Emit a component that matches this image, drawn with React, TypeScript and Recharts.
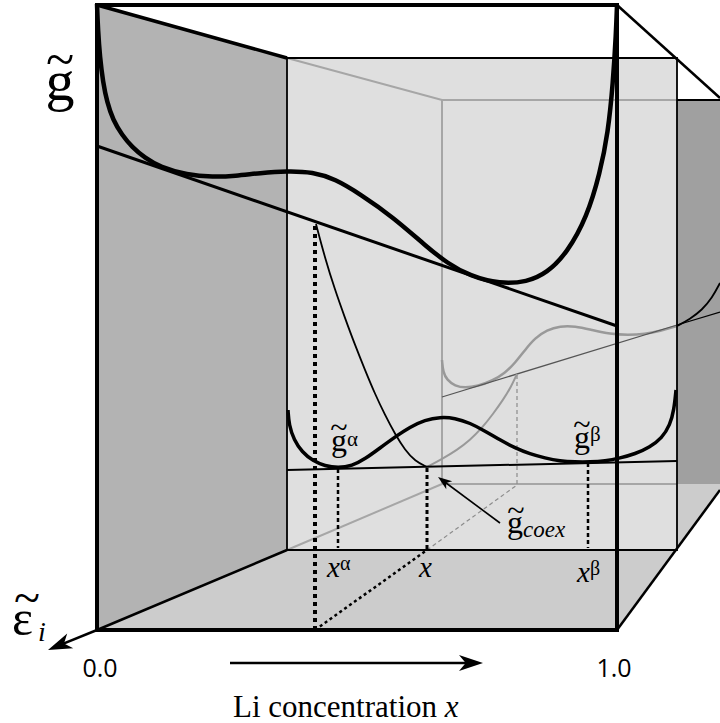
import React from "react";
import { Area, ComposedChart, Line, ReferenceDot, XAxis, YAxis } from "recharts";

type Pt = [number, number];

const W = 720;
const H = 723;

// ---- box outline (drawing units, y grows downward) ----
const frontFrame: Pt[] = [[97, 630], [97, 5], [617, 5], [617, 630], [97, 630]];
const topLeftEdge: Pt[] = [[97, 5], [287, 58]];
const topRightEdge: Pt[] = [[617, 5], [720, 98]];
const floorRightEdge: Pt[] = [[617, 630], [720, 490]];
const floorLeftEdge: Pt[] = [[97, 630], [287, 550]];
const middleFrame: Pt[] = [[287, 550], [287, 58], [677, 58], [677, 550], [287, 550]];
const backWallTop: Pt[] = [[677, 100], [720, 100]];
const backFrameTop: Pt[] = [[287, 58], [442, 100], [677, 100]];
const backFrameSide: Pt[] = [[442, 100], [442, 484], [677, 484]];
const backFrameFloor: Pt[] = [[287, 550], [442, 484]];

// ---- shaded faces, [top, bottom] at each x ----
const sidePanel = [{ x: 97, r: [5, 630] }, { x: 287, r: [58, 550] }];
const middlePanel = [{ x: 287, r: [58, 550] }, { x: 677, r: [58, 550] }];
const floorPanel = [
  { x: 97, r: [630, 630] },
  { x: 287, r: [550, 630] },
  { x: 617, r: [550, 630] },
  { x: 677, r: [550, 550] },
];
const backFloorPanel = [{ x: 677, r: [484, 550] }, { x: 720, r: [484, 490] }];
const backWallPanel = [{ x: 677, r: [100, 484] }, { x: 720, r: [100, 484] }];

// ---- free energy curves ----
const frontCurve: Pt[] = [
  [97, 4], [98, 30], [100, 58], [103, 82], [107, 102], [113, 120], [122, 135], [132, 147],
  [145, 158], [160, 167], [187, 175], [213, 177], [235, 176], [260, 173], [287, 171],
  [313, 172], [335, 179], [360, 194], [393, 217], [427, 247], [447, 263], [470, 276],
  [500, 284], [527, 282], [547, 273], [567, 253], [587, 217], [600, 173], [608, 133],
  [613, 83], [616, 33], [617, 5],
];
const frontTangent: Pt[] = [[97, 146], [617, 326]];

const middleCurve: Pt[] = [
  [288, 410], [289, 425], [294, 440], [302, 452], [313, 461], [325, 466], [338, 468],
  [352, 466], [365, 459], [380, 448], [395, 437], [410, 427], [425, 420], [440, 417],
  [455, 418], [470, 423], [485, 431], [500, 440], [515, 448], [530, 454], [545, 458],
  [560, 461], [575, 462], [590, 462], [605, 461], [620, 458], [635, 454], [650, 447],
  [662, 438], [670, 425], [674, 410], [676, 390],
];
const middleTangent: Pt[] = [[287, 470], [677, 461]];

const backCurve: Pt[] = [
  [442, 360], [443, 372], [447, 380], [455, 386], [465, 388], [478, 386], [492, 381],
  [505, 373], [515, 363], [525, 350], [535, 338], [547, 330], [560, 326], [575, 326],
  [592, 330], [610, 334], [628, 335], [645, 334], [660, 331], [677, 326],
];
const backCurveWall: Pt[] = [[677, 326], [690, 319], [702, 310], [712, 298], [720, 283]];
const backTangent: Pt[] = [[442, 397], [677, 325]];
const backTangentWall: Pt[] = [[677, 325], [720, 312]];

// locus of the common-tangent point across the slices
const coexFront: Pt[] = [
  [316, 224], [325, 258], [335, 290], [345, 318], [355, 345], [365, 370], [375, 394],
  [385, 415], [395, 434], [405, 450], [415, 461], [427, 467],
];
const coexBack: Pt[] = [
  [427, 467], [442, 459], [457, 450], [470, 440], [482, 428], [493, 414], [503, 400],
  [511, 387], [517, 374],
];

// ---- projections onto the floor ----
const dropFront: Pt[] = [[315, 226], [315, 630]];
const dropFloor: Pt[] = [[315, 630], [427, 550]];
const dropCoex: Pt[] = [[427, 468], [427, 550]];
const dropAlpha: Pt[] = [[338, 469], [338, 548]];
const dropBeta: Pt[] = [[588, 463], [588, 548]];
const dropBackFloor: Pt[] = [[427, 550], [517, 485]];
const dropBack: Pt[] = [[517, 375], [517, 485]];

// ---- arrows: [tail, tip] ----
const epsArrow: Pt[] = [[97, 630], [48, 650]];
const concArrow: Pt[] = [[230, 663], [483, 663]];
const coexArrow: Pt[] = [[500, 523], [438, 477]];

// ---- text ----
type Piece = { t: string; size: number; italic?: boolean; dx?: number; dy?: number };
type Note = {
  x: number;
  y: number;
  parts: Piece[];
  font?: string;
  anchor?: "start" | "middle";
};

const SERIF = "Liberation Serif";
const SANS = "Open Sans";

const notes: Note[] = [
  { x: 60, y: 100, anchor: "middle", parts: [{ t: "g", size: 58 }] },
  { x: 60, y: 77, anchor: "middle", parts: [{ t: "~", size: 52 }] },
  { x: 12, y: 635, parts: [{ t: "ε", size: 50 }] },
  { x: 27, y: 614, anchor: "middle", parts: [{ t: "~", size: 48 }] },
  { x: 38, y: 641, parts: [{ t: "i", size: 28, italic: true }] },
  { x: 100, y: 677, anchor: "middle", font: SANS, parts: [{ t: "0.0", size: 25 }] },
  { x: 614, y: 677, anchor: "middle", font: SANS, parts: [{ t: "1.0", size: 25 }] },
  { x: 233, y: 717, parts: [{ t: "Li concentration ", size: 31 }, { t: "x", size: 31, italic: true }] },
  { x: 331, y: 451, parts: [{ t: "g", size: 32 }, { t: "α", size: 21, dy: -5 }] },
  { x: 339, y: 438, anchor: "middle", parts: [{ t: "~", size: 32 }] },
  { x: 574, y: 448, parts: [{ t: "g", size: 32 }, { t: "β", size: 21, dy: -7 }] },
  { x: 582, y: 435, anchor: "middle", parts: [{ t: "~", size: 32 }] },
  { x: 327, y: 577, parts: [{ t: "x", size: 29, italic: true }, { t: "α", size: 20, dy: -7 }] },
  { x: 419, y: 577, parts: [{ t: "x", size: 29, italic: true }] },
  { x: 577, y: 582, parts: [{ t: "x", size: 29, italic: true }, { t: "β", size: 20, dy: -7 }] },
  { x: 507, y: 533, parts: [{ t: "g", size: 32 }, { t: "coex", size: 23, italic: true, dy: 4 }] },
  { x: 516, y: 521, anchor: "middle", parts: [{ t: "~", size: 32 }] },
];

const rows = (pts: Pt[]) => pts.map(([x, y]) => ({ x, y }));

let lineId = 0;
const stroke = (
  pts: Pt[],
  color: string,
  width: number,
  opts: { curve?: boolean; dash?: string; cap?: "butt" | "round" | "square" } = {}
) => (
  <Line
    key={`l${lineId++}`}
    data={rows(pts)}
    dataKey="y"
    type={opts.curve ? "basis" : "linear"}
    stroke={color}
    strokeWidth={width}
    strokeDasharray={opts.dash}
    strokeLinecap={opts.cap ?? "butt"}
    strokeLinejoin="miter"
    dot={false}
    activeDot={false}
    legendType="none"
    isAnimationActive={false}
  />
);

const face = (data: { x: number; r: number[] }[], color: string, key: string) => (
  <Area
    key={key}
    data={data}
    dataKey="r"
    type="linear"
    fill={color}
    fillOpacity={1}
    stroke="none"
    activeDot={false}
    isAnimationActive={false}
  />
);

// shaft stops short of the tip so the head stays sharp
const shaft = (a: Pt[], back: number): Pt[] => {
  const [[x0, y0], [x1, y1]] = a;
  const len = Math.hypot(x1 - x0, y1 - y0);
  const k = (len - back) / len;
  return [[x0, y0], [x0 + (x1 - x0) * k, y0 + (y1 - y0) * k]];
};

const arrowHead = (a: Pt[], length: number, half: number, key: string) => {
  const [[x0, y0], [x1, y1]] = a;
  const ang = Math.atan2(y1 - y0, x1 - x0);
  return (
    <ReferenceDot
      key={key}
      x={x1}
      y={y1}
      r={0}
      ifOverflow="visible"
      shape={(p: any) => {
        const pts = [
          [0, 0],
          [-length, -half],
          [-length * 0.72, 0],
          [-length, half],
        ]
          .map(([u, v]) => {
            const px = p.cx + u * Math.cos(ang) - v * Math.sin(ang);
            const py = p.cy + u * Math.sin(ang) + v * Math.cos(ang);
            return `${px},${py}`;
          })
          .join(" ");
        return <polygon points={pts} fill="#000" />;
      }}
    />
  );
};

const noteDot = (n: Note, i: number) => (
  <ReferenceDot
    key={`n${i}`}
    x={n.x}
    y={n.y}
    r={0}
    ifOverflow="visible"
    shape={(p: any) => (
      <text
        x={p.cx}
        y={p.cy}
        textAnchor={n.anchor ?? "start"}
        fontFamily={n.font ?? SERIF}
        fill="#000"
      >
        {n.parts.map((s, j) => (
          <tspan
            key={j}
            fontSize={s.size}
            fontStyle={s.italic ? "italic" : "normal"}
            dx={s.dx}
            dy={j === 0 ? s.dy : (s.dy ?? 0) - (n.parts[j - 1].dy ?? 0)}
          >
            {s.t}
          </tspan>
        ))}
      </text>
    )}
  />
);

export default function App() {
  lineId = 0;
  return (
    <div style={{ width: W, height: H }}>
      <style>{"body{margin:0}"}</style>
      <ComposedChart width={W} height={H} margin={{ top: 0, right: 0, bottom: 0, left: 0 }}>
        <XAxis type="number" dataKey="x" domain={[0, W]} hide allowDataOverflow />
        <YAxis type="number" domain={[0, H]} reversed hide allowDataOverflow />

        {face(sidePanel, "#b3b3b3", "side")}
        {face(middlePanel, "#dfdfdf", "middle")}
        {face(floorPanel, "#cccccc", "floor")}
        {face(backFloorPanel, "#cccccc", "backFloor")}
        {face(backWallPanel, "#a0a0a0", "backWall")}

        {stroke(backFrameTop, "#a6a6a6", 2)}
        {stroke(backFrameSide, "#a6a6a6", 2)}
        {stroke(backFrameFloor, "#a6a6a6", 2)}
        {stroke(dropBackFloor, "#8c8c8c", 1.2, { dash: "4 3" })}
        {stroke(dropBack, "#8c8c8c", 1.2, { dash: "4 3" })}
        {stroke(backCurve, "#999999", 2.5, { curve: true })}
        {stroke(backCurveWall, "#000", 1.8, { curve: true })}
        {stroke(backTangent, "#555555", 1.3)}
        {stroke(backTangentWall, "#000", 1.3)}
        {stroke(coexBack, "#999999", 2, { curve: true })}

        {stroke(middleFrame, "#000", 1.8)}
        {stroke(backWallTop, "#000", 2)}
        {stroke(middleTangent, "#000", 2)}
        {stroke(middleCurve, "#000", 3.5, { curve: true })}
        {stroke(coexFront, "#000", 1.8, { curve: true })}

        {stroke(dropFront, "#000", 4, { dash: "4 4" })}
        {stroke(dropFloor, "#000", 2.5, { dash: "3 3" })}
        {stroke(dropCoex, "#000", 3, { dash: "4 3" })}
        {stroke(dropAlpha, "#000", 2.5, { dash: "4 3" })}
        {stroke(dropBeta, "#000", 2.5, { dash: "4 3" })}

        {stroke(floorLeftEdge, "#000", 2.5)}
        {stroke(floorRightEdge, "#000", 2.5)}
        {stroke(topRightEdge, "#000", 2.5)}
        {stroke(topLeftEdge, "#000", 3.5)}
        {stroke(frontFrame, "#000", 4, { cap: "square" })}
        {stroke(frontTangent, "#000", 3)}
        {stroke(frontCurve, "#000", 4.5, { curve: true })}

        {stroke(shaft(epsArrow, 12), "#000", 2.5)}
        {stroke(shaft(concArrow, 12), "#000", 2.5)}
        {stroke(shaft(coexArrow, 8), "#000", 1.6)}
        {arrowHead(epsArrow, 24, 8, "a1")}
        {arrowHead(concArrow, 24, 8, "a2")}
        {arrowHead(coexArrow, 14, 5, "a3")}

        {notes.map(noteDot)}
      </ComposedChart>
    </div>
  );
}
